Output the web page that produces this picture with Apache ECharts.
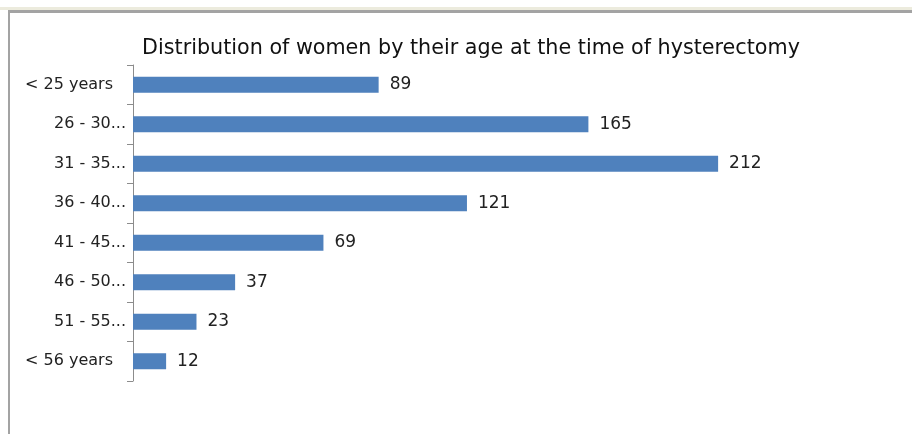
<!DOCTYPE html>
<html>
<head>
<meta charset="utf-8">
<script src="https://cdn.jsdelivr.net/npm/echarts@6/dist/echarts.min.js"></script>
<style>
  html, body { margin: 0; padding: 0; background: #ffffff; }
  #wrap { position: relative; width: 912px; height: 434px; overflow: hidden; }
  #strip { position: absolute; left: 0; top: 7px; width: 912px; height: 3px; background: #ecebdd; }
  #frameTop { position: absolute; left: 8px; top: 10px; width: 904px; height: 3px; background: #a3a3a3; }
  #frameLeft { position: absolute; left: 8px; top: 10px; width: 2px; height: 424px; background: #a3a3a3; }
  #chart { position: absolute; left: 0; top: 0; width: 912px; height: 434px; }
</style>
</head>
<body>
<div id="wrap">
  <div id="strip"></div>
  <div id="frameTop"></div>
  <div id="frameLeft"></div>
  <div id="chart"></div>
</div>
<script>
const titleText = 'Distribution of women by their age at the time of hysterectomy';
const categories = ['< 25 years', '26 - 30...', '31 - 35...', '36 - 40...', '41 - 45...', '46 - 50...', '51 - 55...', '< 56 years'];
const values = [89, 165, 212, 121, 69, 37, 23, 12];

const FONT = 'DejaVu Sans';
const chart = echarts.init(document.getElementById('chart'), null, { renderer: 'canvas' });
chart.setOption({
  backgroundColor: 'transparent',
  animation: false,
  title: {
    text: titleText,
    left: 466,
    textAlign: 'center',
    top: 33,
    textStyle: { fontFamily: FONT, fontSize: 20.7, fontWeight: 'normal', color: '#111111' }
  },
  grid: { left: 133, top: 65, width: 690, height: 316, containLabel: false },
  xAxis: {
    type: 'value',
    min: 0,
    max: 250,
    show: false
  },
  yAxis: {
    type: 'category',
    data: categories,
    inverse: true,
    axisLine: { show: true, lineStyle: { color: '#8c8c8c', width: 1 } },
    axisTick: { show: true, length: 6, lineStyle: { color: '#8c8c8c' } },
    axisLabel: {
      margin: 7,
      fontFamily: FONT,
      fontSize: 16,
      color: '#222222',
      formatter: function (v) {
        return v.charAt(0) === '<' ? '{p|' + v + '}' : v;
      },
      rich: {
        p: { fontFamily: FONT, fontSize: 16, color: '#222222', padding: [0, 13, 0, 0] }
      }
    },
    splitLine: { show: false }
  },
  series: [{
    type: 'bar',
    data: values,
    barWidth: 16,
    itemStyle: { color: '#4f81bd' },
    label: {
      show: true,
      position: 'right',
      distance: 11,
      fontFamily: FONT,
      fontSize: 17,
      color: '#222222'
    }
  }]
});
</script>
</body>
</html>
